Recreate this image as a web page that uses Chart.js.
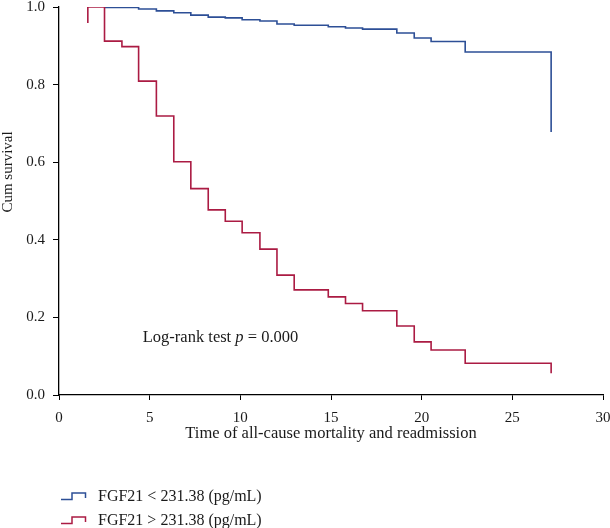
<!DOCTYPE html>
<html>
<head>
<meta charset="utf-8">
<script src="https://cdn.jsdelivr.net/npm/chart.js@4.4.1/dist/chart.umd.min.js"></script>
<style>
  html, body { margin: 0; padding: 0; background: #fff; }
</style>
</head>
<body>
<canvas id="km" width="610" height="528"></canvas>
<script>
// Kaplan-Meier curves (time, cum survival)
const seriesLabels = ['FGF21 < 231.38 (pg/mL)', 'FGF21 > 231.38 (pg/mL)'];
const timeLow  = [2.51, 4.39, 5.37, 6.33, 7.27, 8.23, 9.17, 10.1, 11.08, 12.02, 12.97, 14.85, 15.8, 16.74, 18.63, 19.59, 20.52, 22.4, 27.14, 27.14];
const survLow  = [0.999, 0.995, 0.990, 0.985, 0.979, 0.974, 0.972, 0.967, 0.964, 0.956, 0.953, 0.949, 0.946, 0.943, 0.933, 0.920, 0.911, 0.884, 0.884, 0.678];
const timeHigh = [1.59, 1.59, 2.51, 3.47, 4.39, 5.37, 6.33, 7.27, 8.23, 9.17, 10.1, 11.08, 12.02, 12.97, 14.85, 15.8, 16.74, 18.63, 19.59, 20.52, 22.4, 27.14];
const survHigh = [0.959, 1.0, 0.912, 0.898, 0.809, 0.719, 0.601, 0.532, 0.477, 0.448, 0.418, 0.376, 0.309, 0.271, 0.253, 0.236, 0.217, 0.178, 0.137, 0.116, 0.082, 0.056];
const xTickStep = 5;
const yTickStep = 0.2;
const logRankText = ['Log-rank test ', 'p', ' = 0.000'];

const FONT = '"Liberation Serif", "DejaVu Serif", serif';
const TXT = '#1a1a1a';
const colors = ['#2d4f96', '#ab1b43'];

const pts = (xs, ys) => xs.map((x, i) => ({ x: x, y: ys[i] }));

// extra text: y title, log-rank note, step-style legend
const kmExtras = {
  id: 'kmExtras',
  afterDraw(chart) {
    const ctx = chart.ctx, xs = chart.scales.x, ys = chart.scales.y;
    ctx.save();
    ctx.fillStyle = TXT;
    ctx.textBaseline = 'middle';

    // y axis title
    ctx.save();
    ctx.font = '15px ' + FONT;
    ctx.translate(8, 172);
    ctx.rotate(-Math.PI / 2);
    ctx.textAlign = 'center';
    ctx.fillText('Cum survival', 0, 0);
    ctx.restore();

    // log-rank test
    let lx = xs.getPixelForValue(4.62);
    const ly = ys.getPixelForValue(0.148);
    ctx.textAlign = 'left';
    logRankText.forEach((s, i) => {
      ctx.font = (i === 1 ? 'italic ' : '') + '16.5px ' + FONT;
      ctx.fillText(s, lx, ly);
      lx += ctx.measureText(s).width;
    });

    // legend, in label order
    seriesLabels.forEach((lab, i) => {
      const ds = chart.data.datasets.find(d => d.label === lab);
      const y = 497 + i * 24;
      ctx.strokeStyle = ds.borderColor;
      ctx.lineWidth = 1.5;
      ctx.beginPath();
      ctx.moveTo(61, y + 2.5);
      ctx.lineTo(72, y + 2.5);
      ctx.lineTo(72, y - 4);
      ctx.lineTo(85.5, y - 4);
      ctx.lineTo(85.5, y + 1);
      ctx.stroke();
      ctx.font = '16px ' + FONT;
      ctx.fillStyle = TXT;
      ctx.fillText(lab, 98, y);
    });
    ctx.restore();
  }
};

new Chart(document.getElementById('km'), {
  type: 'line',
  data: {
    datasets: [
      { label: seriesLabels[1], data: pts(timeHigh, survHigh), borderColor: colors[1] },
      { label: seriesLabels[0], data: pts(timeLow, survLow), borderColor: colors[0] }
    ].map(d => Object.assign(d, { stepped: 'before', pointRadius: 0, borderWidth: 1.6, fill: false }))
  },
  options: {
    responsive: false,
    animation: false,
    layout: { padding: { left: 0, right: 0, top: 0, bottom: 78 } },
    plugins: { legend: { display: false }, tooltip: { enabled: false } },
    scales: {
      x: {
        type: 'linear', min: 0, max: 30,
        ticks: { stepSize: xTickStep, font: { family: FONT, size: 15 }, color: TXT, padding: 9 },
        grid: { drawOnChartArea: false, drawTicks: true, tickLength: 5, color: '#000' },
        border: { color: '#000', width: 1.3 },
        title: { display: true, text: 'Time of all-cause mortality and readmission', font: { family: FONT, size: 16.5 }, color: TXT, padding: { top: 0, bottom: 6 } },
        afterFit: s => { s.height = 55; s.paddingLeft = 0; s.paddingRight = 7; }
      },
      y: {
        min: 0, max: 1,
        ticks: { stepSize: yTickStep, font: { family: FONT, size: 15 }, color: TXT, padding: 8, callback: v => v.toFixed(1) },
        grid: { drawOnChartArea: false, drawTicks: true, tickLength: 6, color: '#000' },
        border: { color: '#000', width: 1.3 },
        afterFit: s => { s.width = 59; s.paddingTop = 7; s.paddingBottom = 0; }
      }
    }
  },
  plugins: [kmExtras]
});
</script>
</body>
</html>
